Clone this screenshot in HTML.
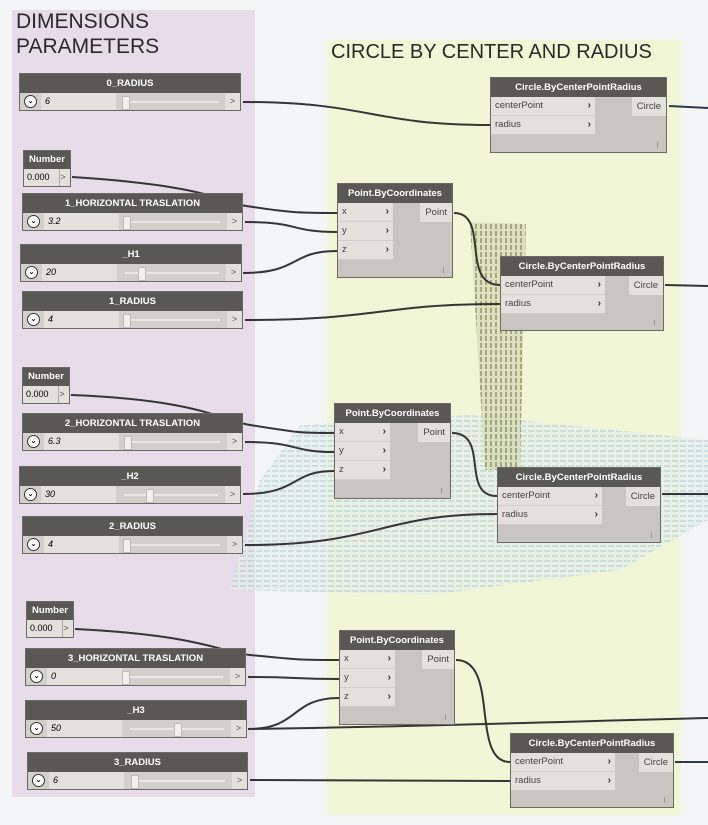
<!DOCTYPE html>
<html><head><meta charset="utf-8"><style>
body{margin:0;width:708px;height:825px;background:#f4f5f6;position:relative;overflow:hidden;font-family:"Liberation Sans",sans-serif}
.g{position:absolute}
.t{position:absolute;color:#2a2a2a;font-size:21px;line-height:25px}
.sl{position:absolute;height:38px;border:1px solid #6c6a67;background:#d3d0cb;box-sizing:border-box}
.sl .h{height:19px;background:#5a5855;color:#fff;font-size:9.5px;font-weight:bold;text-align:center;line-height:19px}
.sl .b{position:relative;height:17px}
.sl .ci{position:absolute;left:4px;top:2px;width:11px;height:11px;border:1.3px solid #333;border-radius:50%;background:#fff;font-size:7px;line-height:11px;text-align:center;font-weight:bold}
.sl .v{position:absolute;left:21px;top:0;width:75px;height:17px;background:#e4e1dc;font-size:9px;font-style:italic;line-height:17px;padding-left:4px;box-sizing:border-box}
.sl .tr{position:absolute;left:104px;right:22px;top:8px;height:2px;background:#ece9e4}
.sl .th{position:absolute;top:3px;width:6px;height:12px;background:#f2f0ec;border:1px solid #bbb}
.sl .o{position:absolute;right:0;top:0;width:15px;height:17px;background:#e4e1dc;font-size:9px;color:#555;line-height:17px;text-align:center}
.nm{position:absolute;width:48px;height:37px;border:1px solid #6c6a67;box-sizing:border-box;background:#e4e1dc}
.nm .h{height:18px;background:#5a5855;color:#fff;font-size:9.5px;font-weight:bold;text-align:center;line-height:18px}
.nm .v{position:absolute;left:0;top:18px;width:32px;height:17px;font-size:9px;line-height:17px;padding-left:3px;border-right:1px solid #aaa}
.nm .o{position:absolute;right:0;top:18px;width:14px;height:17px;font-size:9px;color:#555;line-height:17px;text-align:center}
.fn{position:absolute;border:1px solid #6c6a67;box-sizing:border-box;background:#c9c6c1}
.fn .h{height:19px;background:#5a5855;color:#fff;font-size:9.5px;font-weight:bold;text-align:center;line-height:19px}
.fn .r{position:relative;height:19px;background:#e4e1dc;border-bottom:1px solid #d0cdc8;box-sizing:border-box;font-size:9.5px;color:#444;line-height:18px;padding-left:4px}
.fn .r b{position:absolute;right:4px;top:0;font-size:10px;color:#333}
.fn .out{position:absolute;right:0;top:19px;height:19px;background:#e4e1dc;font-size:9.5px;color:#444;line-height:19px;padding:0 5px}
.fn .tick{position:absolute;right:8px;bottom:4px;width:1px;height:6px;background:#999}
</style></head><body>
<div class="g" style="left:12px;top:10px;width:243px;height:787px;background:#e8dbea"></div>
<div class="g" style="left:327px;top:40px;width:354px;height:775px;background:#f0f6d6"></div>
<svg class="g" style="left:0;top:0" width="708" height="825">
<defs><pattern id="p" width="8" height="5" patternUnits="userSpaceOnUse"><rect width="8" height="5" fill="#e3efe9"/><rect width="6" height="2" fill="#b6d3da"/></pattern>
<pattern id="q" width="5" height="7" patternUnits="userSpaceOnUse"><rect width="5" height="7" fill="#d8dcb8"/><rect width="2" height="5" fill="#8e966a"/></pattern></defs>
<polygon points="300,425 470,415 708,440 708,520 620,570 430,595 230,590 260,480" fill="url(#p)" opacity="0.65"/>
<polygon points="470,222 526,224 520,470 485,470" fill="url(#q)" opacity="0.8"/>
<g fill="none" stroke="#353535" stroke-width="2">
<path d="M243,102 C370,102 370,125 490,125"/>
<path d="M72,177 C200,185 220,200 240,205 C290,213 300,213 337,213"/>
<path d="M245,222 C300,222 290,232 337,232"/>
<path d="M243,273 C300,273 290,251 337,251"/>
<path d="M245,320 C380,320 380,304 500,304"/>
<path d="M454,213 C490,213 460,285 500,285"/>
<path d="M669,106 L708,108" stroke="#2a3a4a"/>
<path d="M665,285 L708,286"/>
<path d="M71,395 C200,400 220,420 250,425 C300,433 300,433 334,433"/>
<path d="M245,442 C300,442 290,452 334,452"/>
<path d="M243,494 C300,494 290,471 334,471"/>
<path d="M245,545 C380,545 380,514 497,514"/>
<path d="M452,433 C490,433 460,496 497,496"/>
<path d="M662,494 L708,494"/>
<path d="M75,629 C200,635 220,652 250,655 C300,660 300,660 339,660"/>
<path d="M248,677 C300,677 290,679 339,679"/>
<path d="M248,729 C300,729 290,698 339,698"/>
<path d="M248,729 C400,727 550,722 708,718"/>
<path d="M250,780 C380,780 380,781 510,781"/>
<path d="M456,660 C500,660 470,762 510,762"/>
<path d="M675,762 L708,762" stroke="#2a3a4a"/>
</g></svg>
<div class="t" style="left:16px;top:9px">DIMENSIONS<br>PARAMETERS</div>
<div class="t" style="left:331px;top:40px;font-size:20px">CIRCLE BY CENTER AND RADIUS</div>

<div class="sl" style="left:19px;top:73px;width:222px"><div class="h">0_RADIUS</div><div class="b"><div class="ci">⌄</div><div class="v">6</div><div class="tr"></div><div class="th" style="left:102px"></div><div class="o">&gt;</div></div></div>
<div class="nm" style="left:23px;top:150px"><div class="h">Number</div><div class="v">0.000</div><div class="o">&gt;</div></div>
<div class="sl" style="left:22px;top:193px;width:221px"><div class="h">1_HORIZONTAL TRASLATION</div><div class="b"><div class="ci">⌄</div><div class="v">3.2</div><div class="tr"></div><div class="th" style="left:100px"></div><div class="o">&gt;</div></div></div>
<div class="sl" style="left:20px;top:244px;width:222px"><div class="h">_H1</div><div class="b"><div class="ci">⌄</div><div class="v">20</div><div class="tr"></div><div class="th" style="left:117px"></div><div class="o">&gt;</div></div></div>
<div class="sl" style="left:22px;top:291px;width:221px"><div class="h">1_RADIUS</div><div class="b"><div class="ci">⌄</div><div class="v">4</div><div class="tr"></div><div class="th" style="left:100px"></div><div class="o">&gt;</div></div></div>

<div class="nm" style="left:22px;top:367px"><div class="h">Number</div><div class="v">0.000</div><div class="o">&gt;</div></div>
<div class="sl" style="left:22px;top:413px;width:221px"><div class="h">2_HORIZONTAL TRASLATION</div><div class="b"><div class="ci">⌄</div><div class="v">6.3</div><div class="tr"></div><div class="th" style="left:101px"></div><div class="o">&gt;</div></div></div>
<div class="sl" style="left:19px;top:466px;width:222px"><div class="h">_H2</div><div class="b"><div class="ci">⌄</div><div class="v">30</div><div class="tr"></div><div class="th" style="left:126px"></div><div class="o">&gt;</div></div></div>
<div class="sl" style="left:22px;top:516px;width:221px"><div class="h">2_RADIUS</div><div class="b"><div class="ci">⌄</div><div class="v">4</div><div class="tr"></div><div class="th" style="left:100px"></div><div class="o">&gt;</div></div></div>

<div class="nm" style="left:26px;top:601px"><div class="h">Number</div><div class="v">0.000</div><div class="o">&gt;</div></div>
<div class="sl" style="left:25px;top:648px;width:221px"><div class="h">3_HORIZONTAL TRASLATION</div><div class="b"><div class="ci">⌄</div><div class="v">0</div><div class="tr"></div><div class="th" style="left:96px"></div><div class="o">&gt;</div></div></div>
<div class="sl" style="left:25px;top:700px;width:222px"><div class="h">_H3</div><div class="b"><div class="ci">⌄</div><div class="v">50</div><div class="tr"></div><div class="th" style="left:148px"></div><div class="o">&gt;</div></div></div>
<div class="sl" style="left:27px;top:752px;width:221px"><div class="h">3_RADIUS</div><div class="b"><div class="ci">⌄</div><div class="v">6</div><div class="tr"></div><div class="th" style="left:103px"></div><div class="o">&gt;</div></div></div>

<div class="fn" style="left:490px;top:77px;width:177px;height:76px"><div class="h">Circle.ByCenterPointRadius</div><div style="width:104px"><div class="r">centerPoint<b>›</b></div><div class="r">radius<b>›</b></div></div><div class="out">Circle</div><div class="tick"></div></div>
<div class="fn" style="left:337px;top:183px;width:116px;height:95px"><div class="h">Point.ByCoordinates</div><div style="width:55px"><div class="r">x<b>›</b></div><div class="r">y<b>›</b></div><div class="r">z<b>›</b></div></div><div class="out">Point</div><div class="tick"></div></div>
<div class="fn" style="left:500px;top:256px;width:164px;height:75px"><div class="h">Circle.ByCenterPointRadius</div><div style="width:104px"><div class="r">centerPoint<b>›</b></div><div class="r">radius<b>›</b></div></div><div class="out">Circle</div><div class="tick"></div></div>
<div class="fn" style="left:334px;top:403px;width:117px;height:96px"><div class="h">Point.ByCoordinates</div><div style="width:55px"><div class="r">x<b>›</b></div><div class="r">y<b>›</b></div><div class="r">z<b>›</b></div></div><div class="out">Point</div><div class="tick"></div></div>
<div class="fn" style="left:497px;top:467px;width:164px;height:76px"><div class="h">Circle.ByCenterPointRadius</div><div style="width:104px"><div class="r">centerPoint<b>›</b></div><div class="r">radius<b>›</b></div></div><div class="out">Circle</div><div class="tick"></div></div>
<div class="fn" style="left:339px;top:630px;width:116px;height:95px"><div class="h">Point.ByCoordinates</div><div style="width:55px"><div class="r">x<b>›</b></div><div class="r">y<b>›</b></div><div class="r">z<b>›</b></div></div><div class="out">Point</div><div class="tick"></div></div>
<div class="fn" style="left:510px;top:733px;width:164px;height:75px"><div class="h">Circle.ByCenterPointRadius</div><div style="width:104px"><div class="r">centerPoint<b>›</b></div><div class="r">radius<b>›</b></div></div><div class="out">Circle</div><div class="tick"></div></div>
</body></html>
